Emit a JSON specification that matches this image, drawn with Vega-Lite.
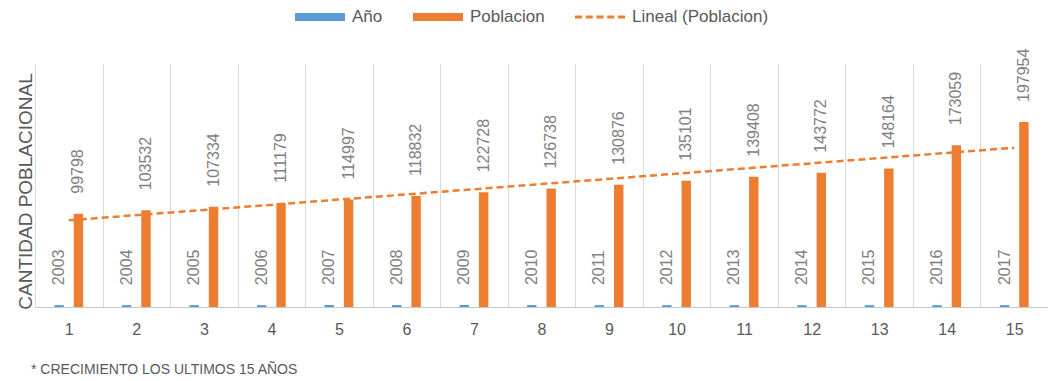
{
  "$schema": "https://vega.github.io/schema/vega-lite/v6.json",
  "width": 1013,
  "height": 243,
  "autosize": {"type": "none"},
  "padding": {"left": 35, "top": 64, "right": 0, "bottom": 74},
  "background": "white",
  "title": {
    "text": "* CRECIMIENTO LOS ULTIMOS 15 AÑOS",
    "orient": "bottom",
    "anchor": "start",
    "fontSize": 14,
    "fontWeight": "normal",
    "color": "#595959",
    "font": "Liberation Sans",
    "offset": 26,
    "dx": 15
  },
  "data": {
    "values": [
      {"n": 1, "serie": "Año", "valor": 2003}, {"n": 1, "serie": "Poblacion", "valor": 99798},
      {"n": 2, "serie": "Año", "valor": 2004}, {"n": 2, "serie": "Poblacion", "valor": 103532},
      {"n": 3, "serie": "Año", "valor": 2005}, {"n": 3, "serie": "Poblacion", "valor": 107334},
      {"n": 4, "serie": "Año", "valor": 2006}, {"n": 4, "serie": "Poblacion", "valor": 111179},
      {"n": 5, "serie": "Año", "valor": 2007}, {"n": 5, "serie": "Poblacion", "valor": 114997},
      {"n": 6, "serie": "Año", "valor": 2008}, {"n": 6, "serie": "Poblacion", "valor": 118832},
      {"n": 7, "serie": "Año", "valor": 2009}, {"n": 7, "serie": "Poblacion", "valor": 122728},
      {"n": 8, "serie": "Año", "valor": 2010}, {"n": 8, "serie": "Poblacion", "valor": 126738},
      {"n": 9, "serie": "Año", "valor": 2011}, {"n": 9, "serie": "Poblacion", "valor": 130876},
      {"n": 10, "serie": "Año", "valor": 2012}, {"n": 10, "serie": "Poblacion", "valor": 135101},
      {"n": 11, "serie": "Año", "valor": 2013}, {"n": 11, "serie": "Poblacion", "valor": 139408},
      {"n": 12, "serie": "Año", "valor": 2014}, {"n": 12, "serie": "Poblacion", "valor": 143772},
      {"n": 13, "serie": "Año", "valor": 2015}, {"n": 13, "serie": "Poblacion", "valor": 148164},
      {"n": 14, "serie": "Año", "valor": 2016}, {"n": 14, "serie": "Poblacion", "valor": 173059},
      {"n": 15, "serie": "Año", "valor": 2017}, {"n": 15, "serie": "Poblacion", "valor": 197954}
    ]
  },
  "layer": [
    {
      "layer": [
        {
          "mark": {"type": "bar"},
          "encoding": {
            "x": {
              "field": "n", "type": "ordinal",
              "scale": {"paddingInner": 0, "paddingOuter": 0},
              "axis": {
                "title": null, "labelAngle": 0, "labelFontSize": 16, "labelColor": "#595959",
                "labelFont": "Liberation Sans", "labelPadding": 14, "ticks": false,
                "grid": true, "gridColor": "#d9d9d9", "tickBand": "extent",
                "domainColor": "#c8c8c8"
              }
            },
            "xOffset": {
              "field": "serie", "type": "nominal",
              "scale": {"domain": ["Año", "Poblacion"], "paddingInner": 0.514, "paddingOuter": 1.186}
            },
            "y": {
              "field": "valor", "type": "quantitative",
              "scale": {"domain": [0, 250000]},
              "axis": {
                "title": "CANTIDAD POBLACIONAL", "labels": false, "ticks": false, "domain": false,
                "grid": false, "titleFontSize": 19, "titleFontWeight": "normal",
                "titleColor": "#595959", "titleFont": "Liberation Sans", "titlePadding": 0, "titleY": 127
              }
            },
            "color": {
              "field": "serie", "type": "nominal",
              "scale": {"domain": ["Año", "Poblacion", "Lineal (Poblacion)"], "range": ["#5b9bd5", "#ed7d31", "#ed7d31"]},
              "legend": {
                "orient": "none", "legendX": 260, "legendY": -72, "direction": "horizontal",
                "title": null, "symbolSize": 2500, "labelFontSize": 17, "labelColor": "#595959",
                "labelFont": "Liberation Sans", "labelOffset": 7, "columnPadding": 30,
                "symbolStrokeWidth": 0,
                "encode": {
                  "symbols": {
                    "update": {
                      "shape": {"signal": "datum.value === 'Lineal (Poblacion)' ? 'M-1,-0.06H-0.72V0.06H-1Z M-0.57,-0.06H-0.29V0.06H-0.57Z M-0.14,-0.06H0.14V0.06H-0.14Z M0.29,-0.06H0.57V0.06H0.29Z M0.72,-0.06H1V0.06H0.72Z' : 'M-1,-0.16H1V0.16H-1Z'"}
                    }
                  }
                }
              }
            }
          }
        },
        {
          "mark": {"type": "text", "angle": 270, "align": "left", "baseline": "middle", "dx": 20, "fontSize": 16, "color": "#808080", "font": "Liberation Sans"},
          "encoding": {
            "x": {"field": "n", "type": "ordinal"},
            "xOffset": {"field": "serie", "type": "nominal"},
            "y": {"field": "valor", "type": "quantitative"},
            "text": {"field": "valor", "type": "quantitative", "format": "d"}
          }
        }
      ]
    },
    {
      "transform": [
        {"filter": "datum.serie === 'Poblacion'"},
        {"regression": "valor", "on": "n", "method": "linear"}
      ],
      "mark": {"type": "line", "color": "#ed7d31", "strokeWidth": 2.5, "strokeDash": [7, 4]},
      "encoding": {
        "x": {"field": "n", "type": "quantitative", "scale": {"domain": [0.5, 15.5], "nice": false, "zero": false}, "axis": null},
        "y": {"field": "valor", "type": "quantitative"}
      }
    }
  ],
  "resolve": {"scale": {"x": "independent"}},
  "config": {"view": {"stroke": null}, "font": "Liberation Sans"}
}
